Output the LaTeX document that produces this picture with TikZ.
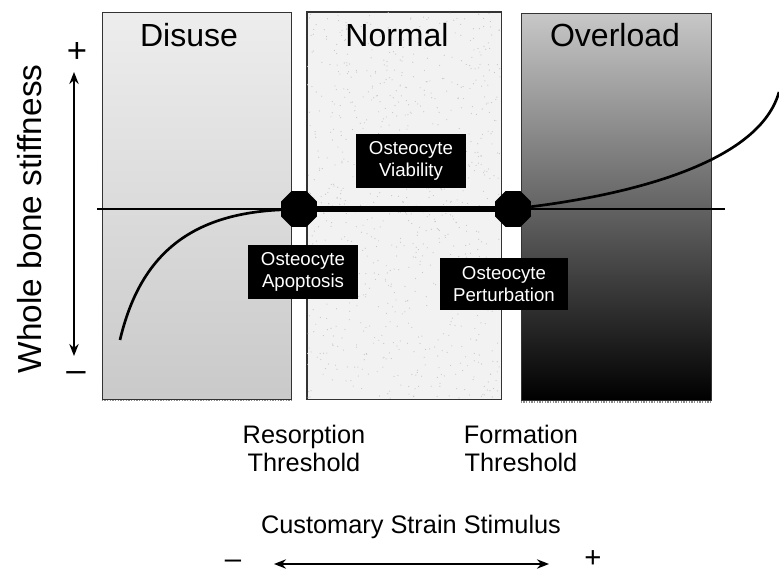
\documentclass[tikz,border=0pt]{standalone}
\usepackage{fontspec}
\setmainfont{Liberation Sans}
\usetikzlibrary{
        arrows,
        arrows.meta,
        positioning,
        shapes,
        shapes.geometric
    }
\tikzset{>={Stealth[length=9pt,width=7pt]},auto}
\tikzset{panel/.style={draw=black!80, line width=0.5pt, minimum width=#1, minimum height=290pt, inner sep=0pt}}
\tikzset{title/.style={anchor=base, font=\fontsize{24}{28}\selectfont}}
\tikzset{cellbox/.style={fill=black, text=white, align=center, inner xsep=10pt, inner ysep=6pt,
                         font=\fontsize{14}{16.5}\selectfont}}
\tikzset{threshold/.style={align=center, font=\fontsize{19}{21}\selectfont}}
\tikzset{sign/.style={inner sep=0pt, font=\fontsize{#1}{#1}\selectfont}, sign/.default=22}
\tikzset{octo/.style={regular polygon, regular polygon sides=8, fill=black, minimum size=29pt, inner sep=0pt}}

\begin{document}
\begin{tikzpicture}[x=0.75pt,y=-0.75pt]
    \useasboundingbox (0,0) rectangle (779,574);
        % the three regimes
        \node[panel=141.75pt, top color=black!7, bottom color=black!21] (disuse) at (196.5,205.5) {};
        \node[panel=145.5pt, fill=black!5] (normal) at (404,205.5) {};
        \begin{scope}
            \clip (307,12) rectangle (501,399);
            \pgfmathsetseed{11}
            \foreach \i in {1,...,900}
                \fill[black!22] ({307+194*rnd},{12+387*rnd}) circle (0.45pt);
        \end{scope}
        \draw[black!80, line width=0.5pt] (normal.south west) rectangle (normal.north east);
        \node[panel=142.5pt, top color=black!22, middle color=black!45, bottom color=black] (overload) at (616,207) {};
        \draw[black!45, densely dotted, line width=1pt] ([yshift=-1pt]disuse.south west) -- ([yshift=-1pt]disuse.south east);
        \draw[black!45, densely dotted, line width=1pt] ([yshift=-1pt]overload.south west) -- ([yshift=-1pt]overload.south east);

        \node[title] (tdisuse) at (189,47) {Disuse};
        \node[title] (tnormal) at (397,47) {Normal};
        \node[title] (toverload) at (615,47) {Overload};

        % stiffness curve
        \coordinate (hl) at (97,209);
        \coordinate (hr) at (725,209);
        \coordinate (dstart) at (120,340);
        \coordinate (cend) at (779,92);
        \draw[line width=1.5pt] (hl) -- (hr);
        \node[octo] (resorb) at (299,209) {};
        \node[octo] (form) at (513,209) {};
        \draw[line width=4.5pt] (resorb) -- (form);
        \draw[line width=2pt] (dstart) .. controls (140,255) and (190,214) .. (resorb);
        \draw[line width=2pt] (form) .. controls (640,193) and (760,160) .. (cend);

        \node[cellbox] (viab) at (411,161) {Osteocyte\\Viability};
        \node[cellbox] (apop) at (303,272) {Osteocyte\\Apoptosis};
        \node[cellbox] (pert) at (504,284) {Osteocyte\\Perturbation};

        \node[threshold] (rthr) at (304,448) {Resorption\\Threshold};
        \node[threshold] (fthr) at (521,448) {Formation\\Threshold};

        % axes
        \coordinate (ytop) at (74,72);
        \coordinate (ybot) at (74,356);
        \draw[<->, line width=1.5pt] (ybot) -- (ytop);
        \node[sign=26] (yplus) at (77,52) {+};
        \node[sign=26] (yminus) at (76,377) {\textendash};
        \node[rotate=90, font=\fontsize{25}{30}\selectfont] (ylab) at (30,219) {Whole bone stiffness};

        \node[font=\fontsize{19}{23}\selectfont] (xlab) at (411,527) {Customary Strain Stimulus};
        \coordinate (xl) at (274,564);
        \coordinate (xr) at (549,564);
        \draw[<->, line width=1.5pt] (xl) -- (xr);
        \node[sign] (xminus) at (233,564) {\textendash};
        \node[sign] (xplus) at (593,559) {+};
\end{tikzpicture}
\end{document}
